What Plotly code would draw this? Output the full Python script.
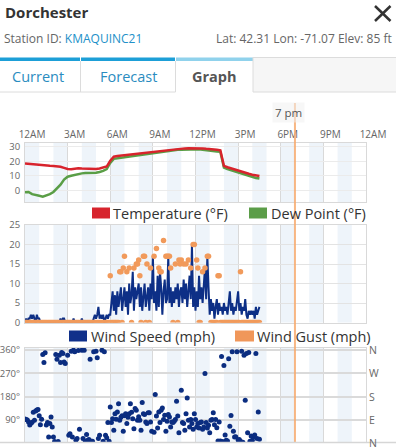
import plotly.graph_objects as go

W, H = 396, 448

# ---------------- data ----------------
hour_ticks = [0, 3, 6, 9, 12, 15, 18, 21, 24]
hour_labels = ["12AM", "3AM", "6AM", "9AM", "12PM", "3PM", "6PM", "9PM", "12AM"]

# temperature / dew point every 15 minutes, 0:00 - 16:30
temp_hours = [i * 0.25 for i in range(67)]
temperature = [
    18.6, 18.3, 18.0, 17.8, 17.5, 17.3, 17.1, 17.0,
    16.9, 16.7, 16.4, 15.6, 14.8, 14.7, 15.0, 15.4,
    15.1, 15.0, 14.9, 14.8, 14.8, 15.2, 15.6, 16.5,
    20.5, 23.3, 23.7, 24.0, 24.3, 24.5, 24.8, 25.0,
    25.3, 25.5, 25.8, 26.1, 26.4, 26.8, 27.2, 27.6,
    28.0, 28.3, 28.6, 28.8, 28.9, 29.0, 29.1, 29.2,
    29.3, 29.3, 29.0, 28.7, 28.3, 28.1, 28.0, 27.7,
    17.0, 16.0, 15.2, 14.3, 13.5, 12.8, 12.2, 11.5,
    10.9, 10.4, 10.0,
]
dew_point = [
    -1.2, -1.0, -2.5, -3.3, -3.6, -4.2, -3.6, -2.5,
    -1.0, 1.2, 4.0, 7.5, 9.5, 10.2, 10.8, 11.5,
    11.8, 12.0, 11.9, 12.0, 12.2, 12.8, 13.5, 14.8,
    19.0, 21.8, 22.3, 22.6, 23.0, 23.3, 23.6, 23.9,
    24.2, 24.4, 24.7, 25.0, 25.4, 25.8, 26.3, 26.7,
    27.1, 27.5, 27.8, 28.0, 28.1, 28.2, 28.3, 28.4,
    28.5, 28.4, 28.0, 27.6, 27.2, 27.0, 26.9, 26.6,
    15.8, 14.8, 14.0, 13.0, 12.2, 11.4, 10.6, 9.9,
    9.2, 8.6, 8.2,
]

# wind readings every 5 minutes, 0:00 - 16:30
wind_hours = [m / 60 for m in range(0, 16 * 60 + 31, 5)]
wind_speed = [
    0, 1, 0, 1, 1, 2, 1, 2, 1, 0, 2, 1,          # 0h
    1, 0, 0, 0, 0, 0, 0, 0, 0, 0, 0, 0,          # 1h
    0, 0, 0, 0, 0, 0, 1, 0, 1, 1, 0, 0,          # 2h
    0, 0, 0, 0, 0, 1, 0, 0, 0, 0, 0, 0,          # 3h
    1, 0, 0, 0, 0, 0, 0, 0, 0, 0, 1, 2,          # 4h
    1, 2, 4, 1, 2, 1, 2, 0, 1, 2, 1, 2,          # 5h
    2, 5, 8, 3, 7, 2, 8, 4, 6, 9, 3, 7,          # 6h
    9, 4, 8, 2, 10, 5, 7, 13, 3, 9, 6, 8,        # 7h
    10, 4, 9, 3, 8, 10, 4, 7, 9, 3, 10, 6,       # 8h
    17, 5, 8, 3, 12, 4, 13, 9, 2, 8, 11, 5,      # 9h
    6, 17, 5, 9, 4, 8, 5, 9, 6, 10, 4, 8,        # 10h
    9, 5, 11, 6, 10, 4, 8, 12, 6, 20, 4, 9,      # 11h
    3, 8, 4, 12, 6, 9, 5, 10, 14, 6, 17, 9,      # 12h
    2, 6, 3, 5, 1, 4, 6, 2, 5, 3, 4, 2,          # 13h
    5, 3, 4, 2, 6, 8, 3, 5, 2, 4, 3, 6,          # 14h
    8, 3, 5, 2, 4, 3, 6, 2, 1, 3, 2, 3,          # 15h
    2, 3, 1, 4, 2, 3, 4,                         # 16h
]
N = None
wind_gust = [
    0, 0, 0, 0, 0, 0, 0, 0, 0, 0, 0, 0,          # 0h
    0, 0, 0, 0, 0, 0, 0, 0, 0, 0, 0, 0,          # 1h
    0, 0, 0, 0, 0, 0, 0, 0, 0, 0, 0, 0,          # 2h
    0, 0, 0, 0, 0, 0, 0, 0, 0, 0, 0, 0,          # 3h
    0, 0, 0, 0, 0, 0, 0, 0, 0, 0, 0, 0,          # 4h
    0, 0, 0, 0, 0, 0, 0, 0, 0, 0, 0, 0,          # 5h
    12, 0, 0, 0, 0, 0, 0, 0, 13, 13, 0, 14,      # 6h
    17, N, 13, N, 14, N, 0, N, 14, N, 15, 15,    # 7h
    16, 12, 0, N, 17, 17, 0, 15, N, 0, 14, N,    # 8h
    N, 17, N, 19, N, 14, 13, 13, N, 21, N, 17,   # 9h
    17, 17, 17, 14, N, 0, N, 15, N, 0, 16, 15,   # 10h
    16, N, 15, N, 15, N, 16, N, 14, N, 20, 20,   # 11h
    N, 16, 14, 0, 0, N, 13, N, 14, N, 17, 17,    # 12h
    N, 0, 0, 0, 0, 0, 0, 12, 12, 0, 0, 0,        # 13h
    0, 0, 0, 0, 0, 0, 0, 0, 0, 0, 0, 0,          # 14h
    0, 0, 13, 0, 0, 0, 0, 0, 0, 0, 0, 0,         # 15h
    0, 0, 0, 0, 0, 0, 0,                         # 16h
]
wind_dir = [
    94, 92, 90, 82, 71, 77, 81, 120, 89, 125, 128, 130,        # 0h
    106, 72, 93, 343, 312, 349, 71, 80, 24, 76, 101, 63,       # 1h
    24, 7, 343, 324, 7, 340, 312, 350, 346, 314, 308, N,       # 2h
    340, 31, 37, 355, 24, 359, 353, 12, 18, 358, 54, N,        # 3h
    359, 18, 359, 8, 34, 12, 15, 324, 8, 8, 353, N,            # 4h
    355, 330, 18, 31, N, 359, 8, 353, 31, 21, 80, 8,           # 5h
    140, 80, 95, 50, 114, 93, 121, 153, 89, 100, 106, 46,      # 6h
    106, 114, 76, 100, 114, 153, 120, 95, 56, 134, 127, 89,    # 7h
    102, 89, 50, 157, 114, 111, 82, 76, 118, 118, 82, 46,      # 8h
    N, 43, 188, 105, 59, 121, 80, 127, 136, 92, 108, 46,       # 9h
    85, 111, 101, 63, 82, 80, 85, 92, 162, 105, 41, N,         # 10h
    205, 80, 76, 50, 114, 175, 89, 63, 92, 76, 54, 114,        # 11h
    92, 63, 76, 59, 80, 82, 54, 63, 269, 80, 59, 70,           # 12h
    41, 89, 92, 118, 72, 92, 60, 9, 82, 9, 335, 7,             # 13h
    300, 32, 12, 9, 326, 66, 107, 353, 46, 24, 25, 353,        # 14h
    13, 15, 8, 355, 4, 340, 166, 346, 41, 350, 8, 28,          # 15h
    12, 25, 32, 346, 18, 121, 16,                              # 16h
]
dir_ticks = [0, 90, 180, 270, 360]
dir_labels = ["0°", "90°", "180°", "270°", "360°"]
compass_labels = ["N", "E", "S", "W", "N"]
now_hour = 19

# ---------------- helpers (window pixels -> paper fractions) ----------------
def px(x):
    return x / W

def py(y):
    return 1 - y / H

X0, X1 = px(25), px(366)
GRID = "#d9d9d9"
TICKC = "#666"
FONT = "Open Sans"

fig = go.Figure()

fig.add_trace(go.Scatter(x=temp_hours, y=dew_point, mode="lines",
                         line=dict(color="#5a9e46", width=2.5),
                         xaxis="x", yaxis="y", showlegend=False))
fig.add_trace(go.Scatter(x=temp_hours, y=temperature, mode="lines",
                         line=dict(color="#d8232c", width=2.5),
                         xaxis="x", yaxis="y", showlegend=False))
fig.add_trace(go.Scatter(x=wind_hours, y=wind_speed, mode="lines",
                         line=dict(color="#0d2f86", width=2),
                         xaxis="x2", yaxis="y2", showlegend=False))
fig.add_trace(go.Scatter(x=wind_hours, y=wind_gust, mode="markers",
                         marker=dict(color="#f19a5b", size=5.5),
                         xaxis="x2", yaxis="y2", showlegend=False))
fig.add_trace(go.Scatter(x=wind_hours, y=wind_dir, mode="markers",
                         marker=dict(color="#0b2d80", size=5),
                         xaxis="x3", yaxis="y3", showlegend=False))

xcommon = dict(range=[0, 24], tickvals=hour_ticks, showgrid=True, automargin=False,
               gridcolor=GRID, gridwidth=1, zeroline=False, showline=True,
               mirror=True, linecolor=GRID, ticks="", domain=[X0, X1])
ycommon = dict(showgrid=True, zeroline=False, showline=True, mirror=True, automargin=False,
               linecolor=GRID, ticks="", tickfont=dict(size=9.5, color=TICKC),
               ticklabelstandoff=2)

fig.update_layout(
    width=W, height=H, margin=dict(l=0, r=0, t=0, b=0, autoexpand=False),
    paper_bgcolor="white", plot_bgcolor="rgba(0,0,0,0)",
    font=dict(family=FONT, color="#333"),
    xaxis=dict(**xcommon, anchor="y", side="top", ticktext=hour_labels,
               showticklabels=True, ticklabelshift=7,
               tickfont=dict(size=10, color=TICKC)),
    yaxis=dict(**ycommon, domain=[py(202), py(143)], range=[-7.9, 32.7],
               tickvals=[0, 10, 20, 30], gridcolor="#ebebeb", anchor="x"),
    xaxis2=dict(**xcommon, anchor="y2", showticklabels=False),
    yaxis2=dict(**ycommon, domain=[py(322.5), py(225)], range=[0, 25],
                tickvals=[0, 5, 10, 15, 20, 25], gridcolor="#e3e3e3", anchor="x2"),
    xaxis3=dict(**xcommon, anchor="y3", showticklabels=False),
    yaxis3=dict(**ycommon, domain=[0, py(348)], range=[-18.2, 367.7],
                tickvals=dir_ticks, ticktext=dir_labels, gridcolor="#dadada",
                gridwidth=2, anchor="x3"),
)

shapes = []
annots = []

# hourly shading bands
for xa, ya in [("x", "y domain"), ("x2", "y2 domain"), ("x3", "y3 domain")]:
    for h in range(0, 24, 2):
        shapes.append(dict(type="rect", xref=xa, yref=ya, x0=h, x1=h + 1, y0=0, y1=1,
                           fillcolor="#eef4fa", line=dict(width=0), layer="below"))

# compass labels on right of direction panel
for d, lab in zip(dir_ticks, compass_labels):
    annots.append(dict(text=lab, x=px(367), xref="paper", xanchor="left",
                       y=d, yref="y3", yanchor="middle", showarrow=False,
                       font=dict(size=10.5, color=TICKC)))

# now line + label
shapes.append(dict(type="line", xref="x", yref="paper", x0=now_hour, x1=now_hour,
                   y0=py(442.5), y1=py(103), line=dict(color="rgba(247,170,110,0.85)", width=2),
                   layer="above"))
annots.append(dict(text="7 pm", x=now_hour, xref="x", y=py(112.5), yref="paper",
                   xanchor="center", yanchor="middle", xshift=-6, showarrow=False,
                   font=dict(size=11.5, color="#555"), bgcolor="rgba(240,240,240,0.55)",
                   borderpad=2))

# legends
def legend_item(x_box0, x_box1, y0, y1, color, text, tx):
    shapes.append(dict(type="rect", xref="paper", yref="paper", x0=px(x_box0), x1=px(x_box1),
                       y0=py(y1), y1=py(y0), fillcolor=color, line=dict(width=0)))
    annots.append(dict(text=text, x=px(tx), xref="paper", xanchor="left",
                       y=py((y0 + y1) / 2), yref="paper", yanchor="middle", showarrow=False,
                       font=dict(size=14.5, color="#333")))

legend_item(92, 110, 207.5, 218.5, "#d7242d", "Temperature (°F)", 111)
legend_item(249, 267, 207.5, 218.5, "#5b9d48", "Dew Point (°F)", 268.5)
legend_item(69, 87, 330.5, 341.5, "#10308a", "Wind Speed (mph)", 88.5)
legend_item(235, 254, 330.5, 341.5, "#f0975a", "Wind Gust (mph)", 255)

# header
annots.append(dict(text="<b>Dorchester</b>", x=px(3), xref="paper", xanchor="left",
                   y=py(12.5), yref="paper", yanchor="middle", showarrow=False,
                   font=dict(size=15, color="#333")))
shapes.append(dict(type="line", xref="paper", yref="paper", x0=px(375), x1=px(390.5),
                   y0=py(6), y1=py(21), line=dict(color="#333", width=2.5)))
shapes.append(dict(type="line", xref="paper", yref="paper", x0=px(375), x1=px(390.5),
                   y0=py(21), y1=py(6), line=dict(color="#333", width=2.5)))
annots.append(dict(text="Station ID: <span style='color:#2290c8'>KMAQUINC21</span>",
                   x=px(2), xref="paper", xanchor="left", y=py(39), yref="paper",
                   yanchor="middle", showarrow=False, font=dict(size=12, color="#666")))
annots.append(dict(text="Lat: 42.31 Lon: -71.07 Elev: 85 ft", x=px(394), xref="paper",
                   xanchor="right", y=py(39), yref="paper", yanchor="middle",
                   showarrow=False, font=dict(size=12, color="#666")))

# tabs
def prect(x0, x1, y0, y1, fill):
    shapes.append(dict(type="rect", xref="paper", yref="paper", x0=px(x0), x1=px(x1),
                       y0=py(y1), y1=py(y0), fillcolor=fill, line=dict(width=0)))

def pline(x0, y0, x1, y1, color="#dcdcdc", w=1):
    shapes.append(dict(type="line", xref="paper", yref="paper", x0=px(x0), x1=px(x1),
                       y0=py(y0), y1=py(y1), line=dict(color=color, width=w)))

prect(253, 397, 57, 92, "#f6f6f6")
pline(253, 57.5, 396, 57.5)
prect(0, 80, 57.5, 61, "#1d9fd7")
prect(81, 175, 57.5, 61, "#1d9fd7")
prect(176, 253, 57.5, 61, "#90d2ec")
pline(80.5, 61, 80.5, 92)
pline(175.5, 61, 175.5, 92)
pline(253, 57, 253, 92)
pline(0, 92, 175.5, 92)
pline(253, 92, 396, 92)
for t, cx, col, bold in [("Current", 37.5, "#2a8cc0", False),
                         ("Forecast", 128, "#2a8cc0", False),
                         ("Graph", 214.5, "#555", True)]:
    annots.append(dict(text=f"<b>{t}</b>" if bold else t, x=px(cx), xref="paper",
                       xanchor="center", y=py(76), yref="paper", yanchor="middle",
                       showarrow=False, font=dict(size=14.5, color=col)))

# bottom overlay (page edge below the fold)
shapes.append(dict(type="rect", xref="paper", yref="paper", x0=0, x1=1, y0=-0.05,
                   y1=py(442.5), fillcolor="white", line=dict(width=0), layer="above"))
shapes.append(dict(type="line", xref="paper", yref="paper", x0=0, x1=1, y0=py(442.5),
                   y1=py(442.5), line=dict(color="#d6d6d6", width=1.5), layer="above"))

fig.update_layout(shapes=shapes, annotations=annots)
fig.write_html(
    "out.html",
    config={"displayModeBar": False},
    post_script="document.documentElement.style.margin='0';"
                "document.body.style.margin='0';document.body.style.padding='0';"
                "document.body.style.overflow='hidden';",
)
